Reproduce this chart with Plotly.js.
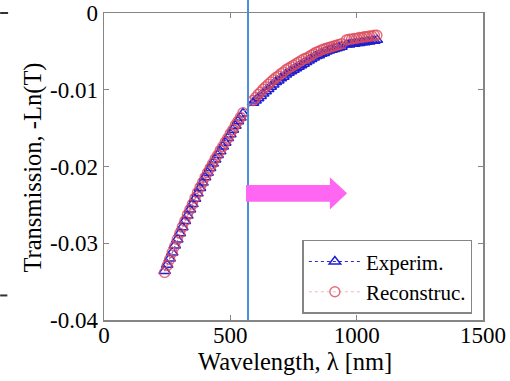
<!DOCTYPE html>
<html>
<head>
<meta charset="utf-8">
<script src="https://cdn.plot.ly/plotly-3.0.1.min.js"></script>
<style>html,body{margin:0;padding:0;background:#fff;}#chart{width:510px;height:381px;}</style>
</head>
<body>
<div id="chart"></div>
<script>
// Wavelength samples [nm]
const wavelength = [
  240,250,260,270,280,290,300,310,320,330,340,350,360,370,380,390,400,410,420,430,440,450,460,470,480,490,500,510,520,530,540,550,
  590,600,610,620,630,640,650,660,670,680,690,700,710,720,730,740,750,760,770,780,790,800,810,820,830,840,850,860,870,880,890,900,910,920,930,940,
  960,970,980,990,1000,1010,1020,1030,1040,1050,1060,1070,1080
];
// Experimental -Ln(T)
const experim = [
  -0.0336,-0.0328,-0.0320,-0.0312,-0.0303,-0.0295,-0.0287,-0.0279,-0.0271,-0.0264,-0.0256,-0.0249,-0.0242,-0.0235,-0.0228,-0.0221,-0.0214,-0.0208,-0.0202,-0.0196,-0.0191,-0.0185,-0.0180,-0.0174,-0.0169,-0.0163,-0.0158,-0.0152,-0.0147,-0.0141,-0.0136,-0.0131,
  -0.0117,-0.0114,-0.0111,-0.0108,-0.0105,-0.0102,-0.0099,-0.0096,-0.0093,-0.0090,-0.0088,-0.0085,-0.0083,-0.0080,-0.0078,-0.0076,-0.0074,-0.0072,-0.0070,-0.0068,-0.0066,-0.0064,-0.0062,-0.0060,-0.0058,-0.0056,-0.0055,-0.0053,-0.0052,-0.0050,-0.0049,-0.0048,-0.0047,-0.0046,-0.0045,-0.0044,
  -0.0041,-0.0041,-0.0040,-0.0040,-0.0039,-0.0039,-0.0038,-0.0038,-0.0037,-0.0037,-0.0036,-0.0036,-0.0035
];
// Reconstructed -Ln(T)
const reconstruc = [
  -0.0338,-0.0329,-0.0321,-0.0312,-0.0304,-0.0295,-0.0287,-0.0279,-0.0271,-0.0263,-0.0256,-0.0249,-0.0241,-0.0234,-0.0227,-0.0221,-0.0214,-0.0208,-0.0202,-0.0196,-0.0190,-0.0185,-0.0179,-0.0174,-0.0168,-0.0163,-0.0157,-0.0152,-0.0146,-0.0141,-0.0136,-0.0130,
  -0.0114,-0.0110,-0.0106,-0.0103,-0.0099,-0.0096,-0.0093,-0.0090,-0.0087,-0.0084,-0.0082,-0.0079,-0.0077,-0.0074,-0.0072,-0.0070,-0.0068,-0.0066,-0.0064,-0.0062,-0.0060,-0.0059,-0.0057,-0.0055,-0.0053,-0.0051,-0.0050,-0.0048,-0.0047,-0.0046,-0.0045,-0.0044,-0.0043,-0.0042,-0.0041,-0.0040,
  -0.0035,-0.0034,-0.0034,-0.0033,-0.0033,-0.0032,-0.0032,-0.0031,-0.0031,-0.0030,-0.0030,-0.0029,-0.0029
];
const seriesNames = ['Experim.', 'Reconstruc.'];
const xTickVals = [0, 500, 1000, 1500];
const xTickText = ['0', '500', '1000', '1500'];
const yTickVals = [-0.04, -0.03, -0.02, -0.01, 0];
const yTickText = ['-0.04', '-0.03', '-0.02', '-0.01', '0'];
const xTitle = 'Wavelength, λ [nm]';
const yTitle = 'Transmission, -Ln(T)';
const markerLambda = 570;               // vertical marker line [nm]
const arrowFrom = 562, arrowHeadBase = 894, arrowTip = 962, arrowLevel = -0.0235;

const FONT = '"Liberation Serif", "Times New Roman", Times, serif';
const GREY = '#858585';

const traces = [
  {
    x: wavelength, y: experim, name: seriesNames[0], type: 'scatter', mode: 'lines+markers',
    line: {color: '#2a2ad6', width: 1, dash: 'dot'},
    marker: {symbol: 'triangle-up-open', size: 10, color: '#1f1fd0', line: {width: 1.5}}
  },
  {
    x: wavelength, y: reconstruc, name: seriesNames[1], type: 'scatter', mode: 'lines+markers',
    line: {color: '#f2b8b8', width: 1, dash: 'dot'},
    marker: {symbol: 'circle-open', size: 10, color: '#dd4a5a', opacity: 0.8, line: {width: 1.4}}
  }
];

const sh = 0.0011, hh = 0.0021; // arrow half heights (data units)
const arrowPath = 'M' + arrowFrom + ',' + (arrowLevel + sh) +
  ' L' + arrowHeadBase + ',' + (arrowLevel + sh) +
  ' L' + arrowHeadBase + ',' + (arrowLevel + hh) +
  ' L' + arrowTip + ',' + arrowLevel +
  ' L' + arrowHeadBase + ',' + (arrowLevel - hh) +
  ' L' + arrowHeadBase + ',' + (arrowLevel - sh) +
  ' L' + arrowFrom + ',' + (arrowLevel - sh) + ' Z';

function axisBase() {
  return {
    showgrid: false, zeroline: false, showline: true, linecolor: GREY, linewidth: 1.5,
    mirror: 'ticks', ticks: 'inside', ticklen: 5, tickcolor: GREY, tickwidth: 1,
    tickfont: {family: FONT, size: 23, color: '#000'}
  };
}

const layout = {
  width: 510, height: 381,
  margin: {l: 104, r: 27, t: 13, b: 61, pad: 0},
  paper_bgcolor: '#fff', plot_bgcolor: '#fff',
  font: {family: FONT, size: 22, color: '#000'},
  showlegend: true,
  legend: {
    x: 0.972, xanchor: 'right', y: 0.02, yanchor: 'bottom',
    bgcolor: '#fff', bordercolor: GREY, borderwidth: 1.5,
    font: {family: FONT, size: 21, color: '#000'},
    itemwidth: 52, tracegroupgap: 0
  },
  xaxis: Object.assign(axisBase(), {
    range: [0, 1500], tickvals: xTickVals, ticktext: xTickText, ticklabelstandoff: -6
  }),
  yaxis: Object.assign(axisBase(), {
    range: [-0.04, 0], tickvals: yTickVals, ticktext: yTickText
  }),
  annotations: [
    {text: xTitle, xref: 'paper', yref: 'paper', x: 0.503, y: -0.134, xanchor: 'center', yanchor: 'middle',
     showarrow: false, font: {family: FONT, size: 24.5, color: '#000'}},
    {text: yTitle, xref: 'paper', yref: 'paper', x: -0.187, y: 0.497, xanchor: 'center', yanchor: 'middle',
     textangle: -90, showarrow: false, font: {family: FONT, size: 24.5, color: '#000'}}
  ],
  shapes: [
    {type: 'line', xref: 'x', yref: 'paper', x0: markerLambda, x1: markerLambda, y0: 0, y1: 1.045,
     line: {color: '#4a8ed8', width: 2}, layer: 'above'},
    {type: 'path', xref: 'x', yref: 'y', path: arrowPath, fillcolor: '#ff66f2',
     line: {color: '#ff66f2', width: 0}, layer: 'above'},
    // stray crop marks at the left edge of the original figure
    {type: 'line', xref: 'paper', yref: 'paper', x0: -0.274, x1: -0.253, y0: 1.0, y1: 1.0,
     line: {color: '#333', width: 2}},
    {type: 'line', xref: 'paper', yref: 'paper', x0: -0.274, x1: -0.255, y0: 0.08, y1: 0.08,
     line: {color: '#333', width: 2}}
  ]
};

Plotly.newPlot('chart', traces, layout, {displayModeBar: false, staticPlot: true});
</script>
</body>
</html>
